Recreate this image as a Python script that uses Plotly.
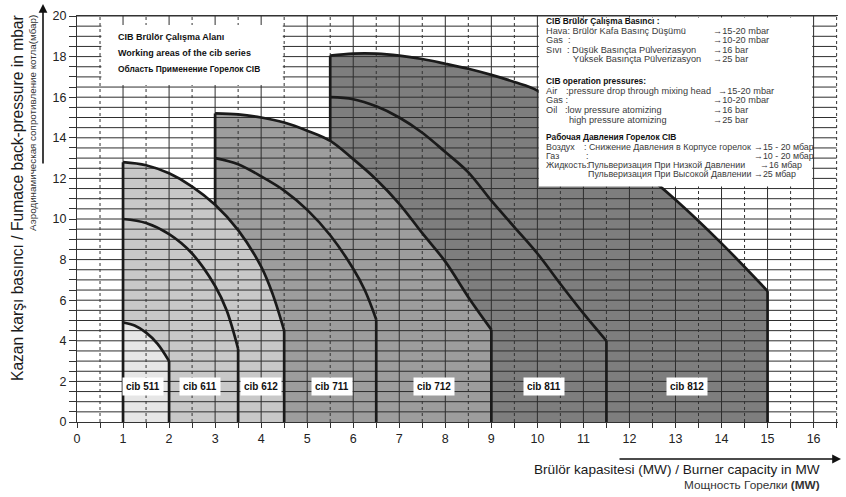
import numpy as np
import plotly.graph_objects as go

# ---------------- data ----------------
x_ticks = list(range(0, 17))
y_ticks = list(range(0, 21, 2))

series_names = ["cib 511", "cib 611", "cib 612", "cib 711", "cib 712", "cib 811", "cib 812"]

c511_x = [1.0, 1.25, 1.5, 1.75, 2.0]
c511_y = [4.9, 4.75, 4.4, 3.85, 3.0]

c611_x = [1.0, 1.5, 2.0, 2.5, 3.0, 3.25, 3.5]
c611_y = [10.0, 9.8, 9.25, 8.3, 6.7, 5.5, 3.6]

c612_x = [1.0, 1.5, 2.0, 2.5, 3.0, 3.5, 4.0, 4.25, 4.5]
c612_y = [12.8, 12.65, 12.25, 11.6, 10.7, 9.45, 7.65, 6.3, 4.5]

c711_x = [3.0, 3.5, 4.0, 4.5, 5.0, 5.5, 6.0, 6.25, 6.5]
c711_y = [13.0, 12.7, 12.1, 11.4, 10.45, 9.2, 7.55, 6.5, 5.05]

c712_x = [3.0, 3.5, 4.0, 4.5, 5.0, 5.5, 6.0, 6.5, 7.0, 7.5, 8.0, 8.5, 9.0]
c712_y = [15.2, 15.15, 15.0, 14.75, 14.35, 13.85, 12.95, 11.95, 10.75, 9.3, 7.9, 6.15, 4.55]

c811_x = [5.5, 6.0, 6.5, 7.0, 7.5, 8.0, 8.5, 9.0, 9.5, 10.0, 10.5, 11.0, 11.5]
c811_y = [16.0, 15.9, 15.55, 15.0, 14.25, 13.3, 12.3, 10.9, 9.6, 8.3, 6.8, 5.35, 4.0]

c812_x = [5.5, 6.0, 6.5, 7.0, 7.5, 8.0, 8.5, 9.0, 9.5, 10.0, 11.0, 12.0, 13.0, 14.0, 15.0]
c812_y = [18.05, 18.15, 18.15, 18.05, 17.88, 17.65, 17.4, 17.1, 16.75, 16.33, 14.6, 12.85, 10.95, 8.8, 6.45]

label_x = [1.44, 2.68, 4.0, 5.53, 7.76, 10.14, 13.24]
label_y = [1.75] * 7

# ---------------- styling ----------------
FONT = "Liberation Sans, Arial, sans-serif"
L, T, W, H = 77, 16, 761, 406
XMAX = 16.53


def px(X):
    return (X - L) / W


def py(Y):
    return (T + H - Y) / H


curves = {
    "cib 511": (c511_x, c511_y),
    "cib 611": (c611_x, c611_y),
    "cib 612": (c612_x, c612_y),
    "cib 711": (c711_x, c711_y),
    "cib 712": (c712_x, c712_y),
    "cib 811": (c811_x, c811_y),
    "cib 812": (c812_x, c812_y),
}

fig = go.Figure()

# fills (outer envelope of each family), dark to light
fills = [("cib 812", "#7e7e7e"), ("cib 712", "#9d9d9d"), ("cib 612", "#c8c8c8"), ("cib 511", "#e6e6e6")]
for name, col in fills:
    cx, cy = curves[name]
    fig.add_trace(go.Scatter(x=cx, y=cy, mode="lines", line=dict(width=0, shape="spline", color=col),
                             fill="tozeroy", fillcolor=col, hoverinfo="skip"))

# grid drawn above the fills
h_levels = [float(v) for v in np.arange(0.5, 20.01, 0.5)]
v_solid = [float(v) for v in range(1, 17)]
v_dash = [float(v) + 0.5 for v in range(0, 17)]

hx, hy = [], []
for yv in h_levels:
    hx += [0.0, 16.5, None]
    hy += [yv, yv, None]
fig.add_trace(go.Scatter(x=hx, y=hy, mode="lines", line=dict(color="#2e2e2e", width=1),
                         connectgaps=False, hoverinfo="skip"))
vx, vy = [], []
for xv in v_solid:
    vx += [xv, xv, None]
    vy += [0.0, 20.0, None]
fig.add_trace(go.Scatter(x=vx, y=vy, mode="lines", line=dict(color="#2e2e2e", width=1),
                         connectgaps=False, hoverinfo="skip"))
dx, dy = [], []
for xv in v_dash:
    dx += [xv, xv, None]
    dy += [0.0, 20.0, None]
fig.add_trace(go.Scatter(x=dx, y=dy, mode="lines", line=dict(color="#333333", width=1, dash="3px,3px"),
                         connectgaps=False, hoverinfo="skip"))

# outlines
OUT = dict(color="#1a1a1a", width=2.7)
for name in series_names:
    cx, cy = curves[name]
    fig.add_trace(go.Scatter(x=cx, y=cy, mode="lines", line=dict(OUT, shape="spline"), hoverinfo="skip"))
    fig.add_trace(go.Scatter(x=[cx[-1], cx[-1]], y=[0, cy[-1]], mode="lines", line=OUT, hoverinfo="skip"))
# left edges, visible only above the family drawn in front of them
left_edges = [
    (c612_x[0], 0.0, c612_y[0]),
    (c712_x[0], float(np.interp(c712_x[0], c612_x, c612_y)), c712_y[0]),
    (c812_x[0], float(np.interp(c812_x[0], c712_x, c712_y)), c812_y[0]),
]
for xe, y0, y1 in left_edges:
    fig.add_trace(go.Scatter(x=[xe, xe], y=[y0, y1], mode="lines", line=OUT, hoverinfo="skip"))

# white text boxes
fig.add_shape(type="rect", xref="x", yref="y", x0=0.53, x1=4.47, y0=16.6, y1=19.56,
              fillcolor="white", line=dict(width=0), layer="above")
fig.add_shape(type="rect", xref="x", yref="y", x0=10.03, x1=15.97, y0=11.6, y1=19.92,
              fillcolor="white", line=dict(width=0), layer="above")

ann = []
# series labels
for name, lx, ly in zip(series_names, label_x, label_y):
    ann.append(dict(x=lx, y=ly, xref="x", yref="y", text="<b>%s</b>" % name, showarrow=False,
                    bgcolor="white", borderpad=3, font=dict(family=FONT, size=10, color="#111")))


def txt(X, Y, s, size=9.2, color="#3a3a3a", anchor="left"):
    ann.append(dict(x=px(X), y=py(Y), xref="paper", yref="paper", text=s, showarrow=False,
                    xanchor=anchor, yanchor="middle", font=dict(family=FONT, size=size, color=color)))


# top-left box
txt(116, 37, "<b>CIB Brülör Çalışma Alanı</b>", 9.0, "#111")
txt(116, 53, "<b>Working areas of the cib series</b>", 9.0, "#111")
txt(116, 69, "<b>Область Применение Горелок CIB</b>", 8.4, "#111")

# top-right box
RU = 8.9
TB = 8.4
txt(544, 21, "<b>CIB Brülör Çalışma Basıncı :</b>", TB, "#111")
txt(544, 31, "Hava: Brülör Kafa Basınç Düşümü")
txt(711, 31, "→15-20 mbar")
txt(544, 40, "Gas  :")
txt(711, 40, "→10-20 mbar")
txt(544, 50, "Sıvı")
txt(565, 50, ": Düşük Basınçta Pülverizasyon")
txt(711, 50, "→16 bar")
txt(571, 59, "Yüksek Basınçta Pülverizasyon")
txt(711, 59, "→25 bar")

txt(544, 81, "<b>CIB operation pressures:</b>", TB, "#111")
txt(544, 91, "Air")
txt(564, 91, ":pressure drop through mixing head")
txt(716, 91, "→15-20 mbar")
txt(544, 100, "Gas :")
txt(711, 100, "→10-20 mbar")
txt(544, 110, "Oil")
txt(563, 110, ":low pressure atomizing")
txt(711, 110, "→16 bar")
txt(567, 120, "high pressure atomizing")
txt(711, 120, "→25 bar")

txt(544, 137, "<b>Рабочая Давления Горелок CIB</b>", TB, "#111")
txt(544, 147, "Воздух", RU)
txt(582, 147, ": Снижение Давления в Корпусе горелок", RU)
txt(752, 147, "→15 - 20 мбар", RU)
txt(544, 156, "Газ", RU)
txt(584, 156, ":", RU)
txt(752, 156, "→10 - 20 мбар", RU)
txt(544, 165, "Жидкость:", RU)
txt(586, 165, "Пульверизация При Низкой Давлении", RU)
txt(758, 165, "→16 мбар", RU)
txt(586, 174, "Пульверизация При Высокой Давлении", RU)
txt(752, 174, "→25 мбар", RU)

# axis titles
ann.append(dict(x=px(17), y=py(13), xref="paper", yref="paper", showarrow=False, textangle=-90,
                xanchor="center", yanchor="top",
                text="Kazan karşı basıncı / Fumace back-pressure in mbar",
                font=dict(family=FONT, size=15.6, color="#1a1a1a")))
ann.append(dict(x=px(32), y=py(13), xref="paper", yref="paper", showarrow=False, textangle=-90,
                xanchor="center", yanchor="top",
                text="Аэродинамическая сопротивление котла(мбар)",
                font=dict(family=FONT, size=9.8, color="#333")))
txt(822, 469, "Brülör kapasitesi (MW) / Burner capacity in MW", 13.6, "#1a1a1a", "right")
txt(822, 485, "Мощность Горелки <b>(MW)</b>", 11.8, "#333", "right")

# arrows
ann.append(dict(x=px(43), y=py(4), xref="paper", yref="paper", text="", showarrow=True,
                ax=0, ay=161, arrowhead=2, arrowsize=1.1, arrowwidth=1.6, arrowcolor="#111"))
ann.append(dict(x=px(841), y=py(459), xref="paper", yref="paper", text="", showarrow=True,
                ax=-223, ay=0, arrowhead=2, arrowsize=1.1, arrowwidth=1.6, arrowcolor="#111"))

fig.update_layout(
    width=846, height=497,
    margin=dict(l=L, r=846 - L - W, t=T, b=497 - T - H),
    paper_bgcolor="white", plot_bgcolor="white",
    showlegend=False, hovermode=False,
    annotations=ann,
    font=dict(family=FONT, size=12.5, color="#222"),
)
fig.update_xaxes(range=[0, XMAX], tickmode="array", tickvals=x_ticks, ticktext=[str(v) for v in x_ticks],
                 showgrid=False, zeroline=False, showline=True, linecolor="#333", linewidth=1, mirror=True,
                 ticks="outside", ticklen=5, tickcolor="#333",
                 minor=dict(tickvals=[v + 0.5 for v in x_ticks], ticks="outside", ticklen=5, tickcolor="#333",
                            showgrid=False),
                 tickfont=dict(family=FONT, size=12.5, color="#222"))
fig.update_yaxes(range=[0, 20], tickmode="array", tickvals=y_ticks, ticktext=[str(v) for v in y_ticks],
                 showgrid=False, zeroline=False, showline=True, linecolor="#333", linewidth=1,
                 ticks="outside", ticklen=7, tickcolor="#333",
                 minor=dict(dtick=0.5, ticks="outside", ticklen=7, tickcolor="#333", showgrid=False),
                 tickfont=dict(family=FONT, size=12.5, color="#222"))

fig.write_html("out.html", config={"displayModeBar": False, "staticPlot": True},
               post_script="document.body.style.margin='0px';")
